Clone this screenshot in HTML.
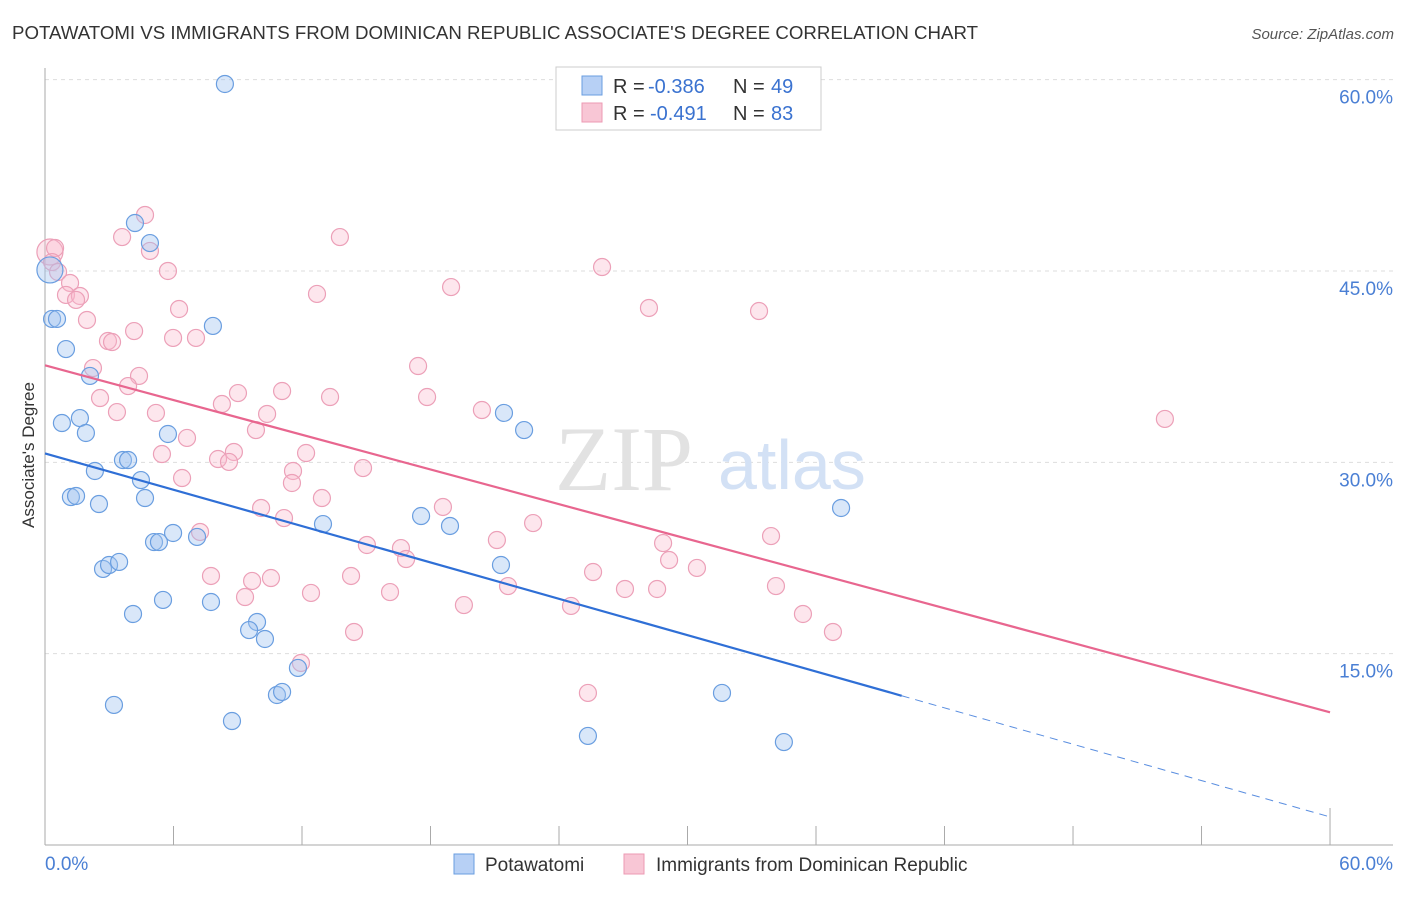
<!DOCTYPE html>
<html><head><meta charset="utf-8"><style>
body{margin:0;background:#fff;font-family:"Liberation Sans",sans-serif}
</style></head><body>
<svg width="1406" height="892" xmlns="http://www.w3.org/2000/svg" font-family="Liberation Sans, sans-serif">
<text x="12" y="39" font-size="18" fill="#333" textLength="966" lengthAdjust="spacingAndGlyphs">POTAWATOMI VS IMMIGRANTS FROM DOMINICAN REPUBLIC ASSOCIATE'S DEGREE CORRELATION CHART</text>
<text x="1394" y="39" font-size="15" fill="#555" font-style="italic" text-anchor="end">Source: ZipAtlas.com</text>
<g id="grid"></g>
<text x="555" y="490" font-size="92" fill="#e2e2e2" font-family="Liberation Serif, serif">ZIP</text>
<text x="718" y="489" font-size="70" fill="#d3e1f5">atlas</text>
<g id="pts"></g>
<g id="lines"></g>
<text x="34" y="455" font-size="17" fill="#333" text-anchor="middle" transform="rotate(-90 34 455)">Associate's Degree</text>
<text x="45" y="870" font-size="19" fill="#4a7fd4">0.0%</text>
<text x="1393" y="870" font-size="19" fill="#4a7fd4" text-anchor="end">60.0%</text>
<g>
<rect x="556" y="67" width="265" height="63" fill="#fff" stroke="#ccc"/>
<rect x="582" y="76" width="20" height="19" fill="#b7d0f5" stroke="#6a9ee0"/>
<rect x="582" y="103" width="20" height="19" fill="#f8c6d5" stroke="#ec9ab3"/>
<text x="613" y="93" font-size="20" fill="#333">R =</text>
<text x="648" y="93" font-size="20" fill="#3a72d0">-0.386</text>
<text x="733" y="93" font-size="20" fill="#333">N =</text>
<text x="771" y="93" font-size="20" fill="#3a72d0">49</text>
<text x="613" y="120" font-size="20" fill="#333">R =</text>
<text x="650" y="120" font-size="20" fill="#3a72d0">-0.491</text>
<text x="733" y="120" font-size="20" fill="#333">N =</text>
<text x="771" y="120" font-size="20" fill="#3a72d0">83</text>
</g>
<g>
<rect x="454" y="854" width="20" height="20" fill="#b7d0f5" stroke="#6a9ee0"/>
<text x="485" y="871" font-size="19" fill="#333">Potawatomi</text>
<rect x="624" y="854" width="20" height="20" fill="#f8c6d5" stroke="#ec9ab3"/>
<text x="656" y="871" font-size="19" fill="#333">Immigrants from Dominican Republic</text>
</g>
</svg>
<script>
const yTicks=[15,30,45,60];
const yTickLabels=["15.0%","30.0%","45.0%","60.0%"];
const xTicks=[0,6,12,18,24,30,36,42,48,54,60];
const blueX=[8.40,4.20,4.90,0.23,0.33,0.56,7.84,0.98,2.10,0.79,1.63,1.91,3.64,3.88,5.74,2.33,4.48,1.21,1.45,2.52,4.67,21.43,22.37,37.17,17.56,18.91,12.98,5.98,7.10,5.09,5.32,2.71,2.99,3.46,21.29,5.51,7.75,4.11,9.90,9.53,10.27,11.81,10.83,11.07,3.22,8.73,31.61,25.35,34.50];
const blueY=[59.66,48.76,47.19,45.08,41.24,41.24,40.69,38.88,36.77,33.08,33.47,32.30,30.18,30.18,32.22,29.32,28.61,27.28,27.36,26.73,27.20,33.87,32.53,26.42,25.79,25.01,25.16,24.46,24.15,23.75,23.75,21.64,21.95,22.19,21.95,19.21,19.05,18.11,17.48,16.85,16.15,13.88,11.76,12.00,10.98,9.72,11.92,8.55,8.07];
const pinkX=[0.23,0.47,0.33,0.61,1.17,0.98,1.63,1.45,1.96,4.67,3.60,4.90,5.74,6.26,4.16,2.94,3.13,7.05,5.98,2.24,4.39,3.88,2.57,3.36,5.18,9.01,8.26,6.63,5.46,9.85,10.37,11.07,13.31,13.77,12.70,18.96,26.01,28.20,33.34,17.42,17.84,20.40,52.29,8.82,8.08,8.59,12.19,11.58,11.53,6.40,14.85,12.93,10.09,11.16,18.58,7.24,22.79,21.10,15.03,16.62,16.86,28.86,29.14,30.44,33.90,25.59,7.75,9.67,10.55,14.29,21.62,27.08,28.58,34.13,9.34,12.42,16.11,19.56,24.56,35.39,36.79,14.43,11.95,25.35];
const pinkY=[46.49,46.80,45.70,44.92,44.06,43.12,43.04,42.73,41.16,49.39,47.66,46.57,45.00,42.02,40.29,39.51,39.43,39.75,39.75,37.39,36.77,35.98,35.04,33.94,33.87,35.43,34.57,31.91,30.65,32.53,33.79,35.59,35.12,47.66,43.20,43.74,45.31,42.10,41.86,37.55,35.12,34.10,33.40,30.81,30.26,30.03,30.73,29.32,28.38,28.77,29.55,27.20,26.42,25.63,26.50,24.54,25.24,23.91,23.52,23.28,22.42,23.67,22.34,21.72,24.22,21.40,21.09,20.70,20.93,21.09,20.30,20.07,20.07,20.30,19.44,19.76,19.83,18.81,18.74,18.11,16.70,16.70,14.27,11.92];
const blueTrend=[30.7,2.2];
const pinkTrend=[37.6,10.4];
const blueSolidEnd=40;
const NS="http://www.w3.org/2000/svg";
const sx=v=>45+v*21.417, sy=v=>845-v*12.756;
function mk(t,a,p){const e=document.createElementNS(NS,t);for(const k in a)e.setAttribute(k,a[k]);p.appendChild(e);return e;}
const grid=document.getElementById('grid');
yTicks.forEach((t,i)=>{
 const l=mk('line',{x1:45,x2:1393,y1:sy(t),y2:sy(t),stroke:'#ddd','stroke-dasharray':'4,4'},grid);
 
 
 const tx=mk('text',{x:1393,y:sy(t)+24,'font-size':19,fill:'#4a7fd4','text-anchor':'end'},grid);
 tx.textContent=yTickLabels[i];
 
 
});
const ax=mk('line',{x1:45,x2:45,y1:68,y2:845,stroke:'#aaa'},grid);


const bx=mk('line',{x1:45,x2:1393,y1:845,y2:845,stroke:'#aaa'},grid);


xTicks.forEach((t,i)=>{
 const l=mk('line',{x1:sx(t),x2:sx(t),y1:i==xTicks.length-1?808:826,y2:845,stroke:'#aaa'},grid);
 
 
});
const pts=document.getElementById('pts');
pinkX.forEach((x,i)=>{
 const c=mk('circle',{cx:sx(x),cy:sy(pinkY[i]),r:i==0?13:8.5,fill:'rgba(248,182,202,0.35)',stroke:'#eca0b8','stroke-width':1.2},pts);
 
 
});
blueX.forEach((x,i)=>{
 const c=mk('circle',{cx:sx(x),cy:sy(blueY[i]),r:i==3?13:8.5,fill:'rgba(160,196,240,0.4)',stroke:'#6a9ee0','stroke-width':1.2},pts);
 
 
});
const lines=document.getElementById('lines');
const by=x=>blueTrend[0]+(blueTrend[1]-blueTrend[0])*x/60;
let l1=mk('line',{x1:sx(0),y1:sy(blueTrend[0]),x2:sx(blueSolidEnd),y2:sy(by(blueSolidEnd)),stroke:'#2f6fd6','stroke-width':2.2},lines);


let l2=mk('line',{x1:sx(blueSolidEnd),y1:sy(by(blueSolidEnd)),x2:sx(60),y2:sy(blueTrend[1]),stroke:'#5a8ee0','stroke-width':1,'stroke-dasharray':'8,6'},lines);


let l3=mk('line',{x1:sx(0),y1:sy(pinkTrend[0]),x2:sx(60),y2:sy(pinkTrend[1]),stroke:'#e8668f','stroke-width':2.2},lines);


</script>
</body></html>
